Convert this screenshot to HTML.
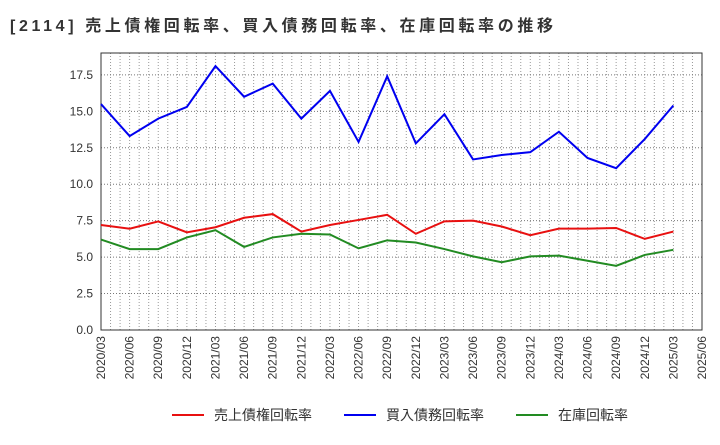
<!DOCTYPE html>
<html><head><meta charset="utf-8"><style>
body{margin:0;background:#fff;font-family:"Liberation Sans","Noto Sans CJK JP",sans-serif;}
</style></head><body>
<svg id="c" width="720" height="440" xmlns="http://www.w3.org/2000/svg">
<text x="10" y="31" font-size="16" font-weight="bold" fill="#333" textLength="543" lengthAdjust="spacing" font-family="Liberation Sans, Noto Sans CJK JP, sans-serif">[2114]  売上債権回転率、買入債務回転率、在庫回転率の推移</text>
<g id="grid"></g><g id="axes"></g><g id="series"></g><g id="legend"></g>
</svg>
<script>
const categories=["2020/03","2020/06","2020/09","2020/12","2021/03","2021/06","2021/09","2021/12","2022/03","2022/06","2022/09","2022/12","2023/03","2023/06","2023/09","2023/12","2024/03","2024/06","2024/09","2024/12","2025/03","2025/06"];
const yTicks=[0,2.5,5,7.5,10,12.5,15,17.5];
const receivables=[7.2,6.95,7.45,6.7,7.05,7.7,7.95,6.75,7.2,7.55,7.9,6.6,7.45,7.5,7.1,6.5,6.95,6.95,7.0,6.25,6.75];
const payables=[15.5,13.3,14.5,15.3,18.1,16.0,16.9,14.5,16.4,12.9,17.4,12.8,14.8,11.7,12.0,12.2,13.6,11.8,11.1,13.1,15.4];
const inventory=[6.2,5.55,5.55,6.35,6.85,5.7,6.35,6.6,6.55,5.6,6.15,6.0,5.55,5.05,4.65,5.05,5.1,4.75,4.4,5.15,5.5];
const seriesNames=["売上債権回転率","買入債務回転率","在庫回転率"];
const NS="http://www.w3.org/2000/svg";
const L=101,R=702,T=53,B=330,yMax=19;
const xs=i=>L+(R-L)*i/(categories.length-1);
const ys=v=>B-(B-T)*v/yMax;
function mk(tag,attrs,parent){const e=document.createElementNS(NS,tag);for(const k in attrs)e.setAttribute(k,attrs[k]);parent.appendChild(e);return e;}
const grid=document.getElementById('grid'),axes=document.getElementById('axes'),ser=document.getElementById('series'),leg=document.getElementById('legend');
const n=(categories.length-1)*3;
for(let j=1;j<n;j++){const x=L+(R-L)*j/n;const l=mk('line',{x1:x,x2:x,y1:T,y2:B,stroke:'#999','stroke-width':1,'stroke-dasharray':'1,2'},grid);

}
yTicks.forEach(v=>{const y=ys(v);if(v>0){const l=mk('line',{x1:L,x2:R,y1:y,y2:y,stroke:'#777','stroke-width':1,'stroke-dasharray':'1,2'},grid);

}
const t=mk('text',{x:L-8,y:y+4,'text-anchor':'end','font-size':12,fill:'#333'},axes);t.textContent=v.toFixed(1);

});
categories.forEach((c,i)=>{const x=xs(i);const t=mk('text',{x:0,y:0,transform:`translate(${x+4},${B+6}) rotate(-90)`,'text-anchor':'end','font-size':12,fill:'#333'},axes);t.textContent=c;

});
const fr=mk('rect',{x:L,y:T,width:R-L,height:B-T,fill:'none',stroke:'#333','stroke-width':1},axes);


const data=[receivables,payables,inventory],cols=['#e81010','#0000f0','#228b22'],ids=['receivables-line','payables-line','inventory-line'];
data.forEach((d,k)=>{const p=mk('polyline',{points:d.map((v,i)=>xs(i)+','+ys(v)).join(' '),fill:'none',stroke:cols[k],'stroke-width':2},ser);

});
const lx=[172,344,516];
seriesNames.forEach((s,k)=>{const g=mk('g',{},leg);


mk('line',{x1:lx[k],x2:lx[k]+32,y1:415,y2:415,stroke:cols[k],'stroke-width':2},g);
const t=mk('text',{x:lx[k]+42,y:420,'font-size':14,fill:'#333'},g);t.textContent=s;});
</script>
</body></html>
